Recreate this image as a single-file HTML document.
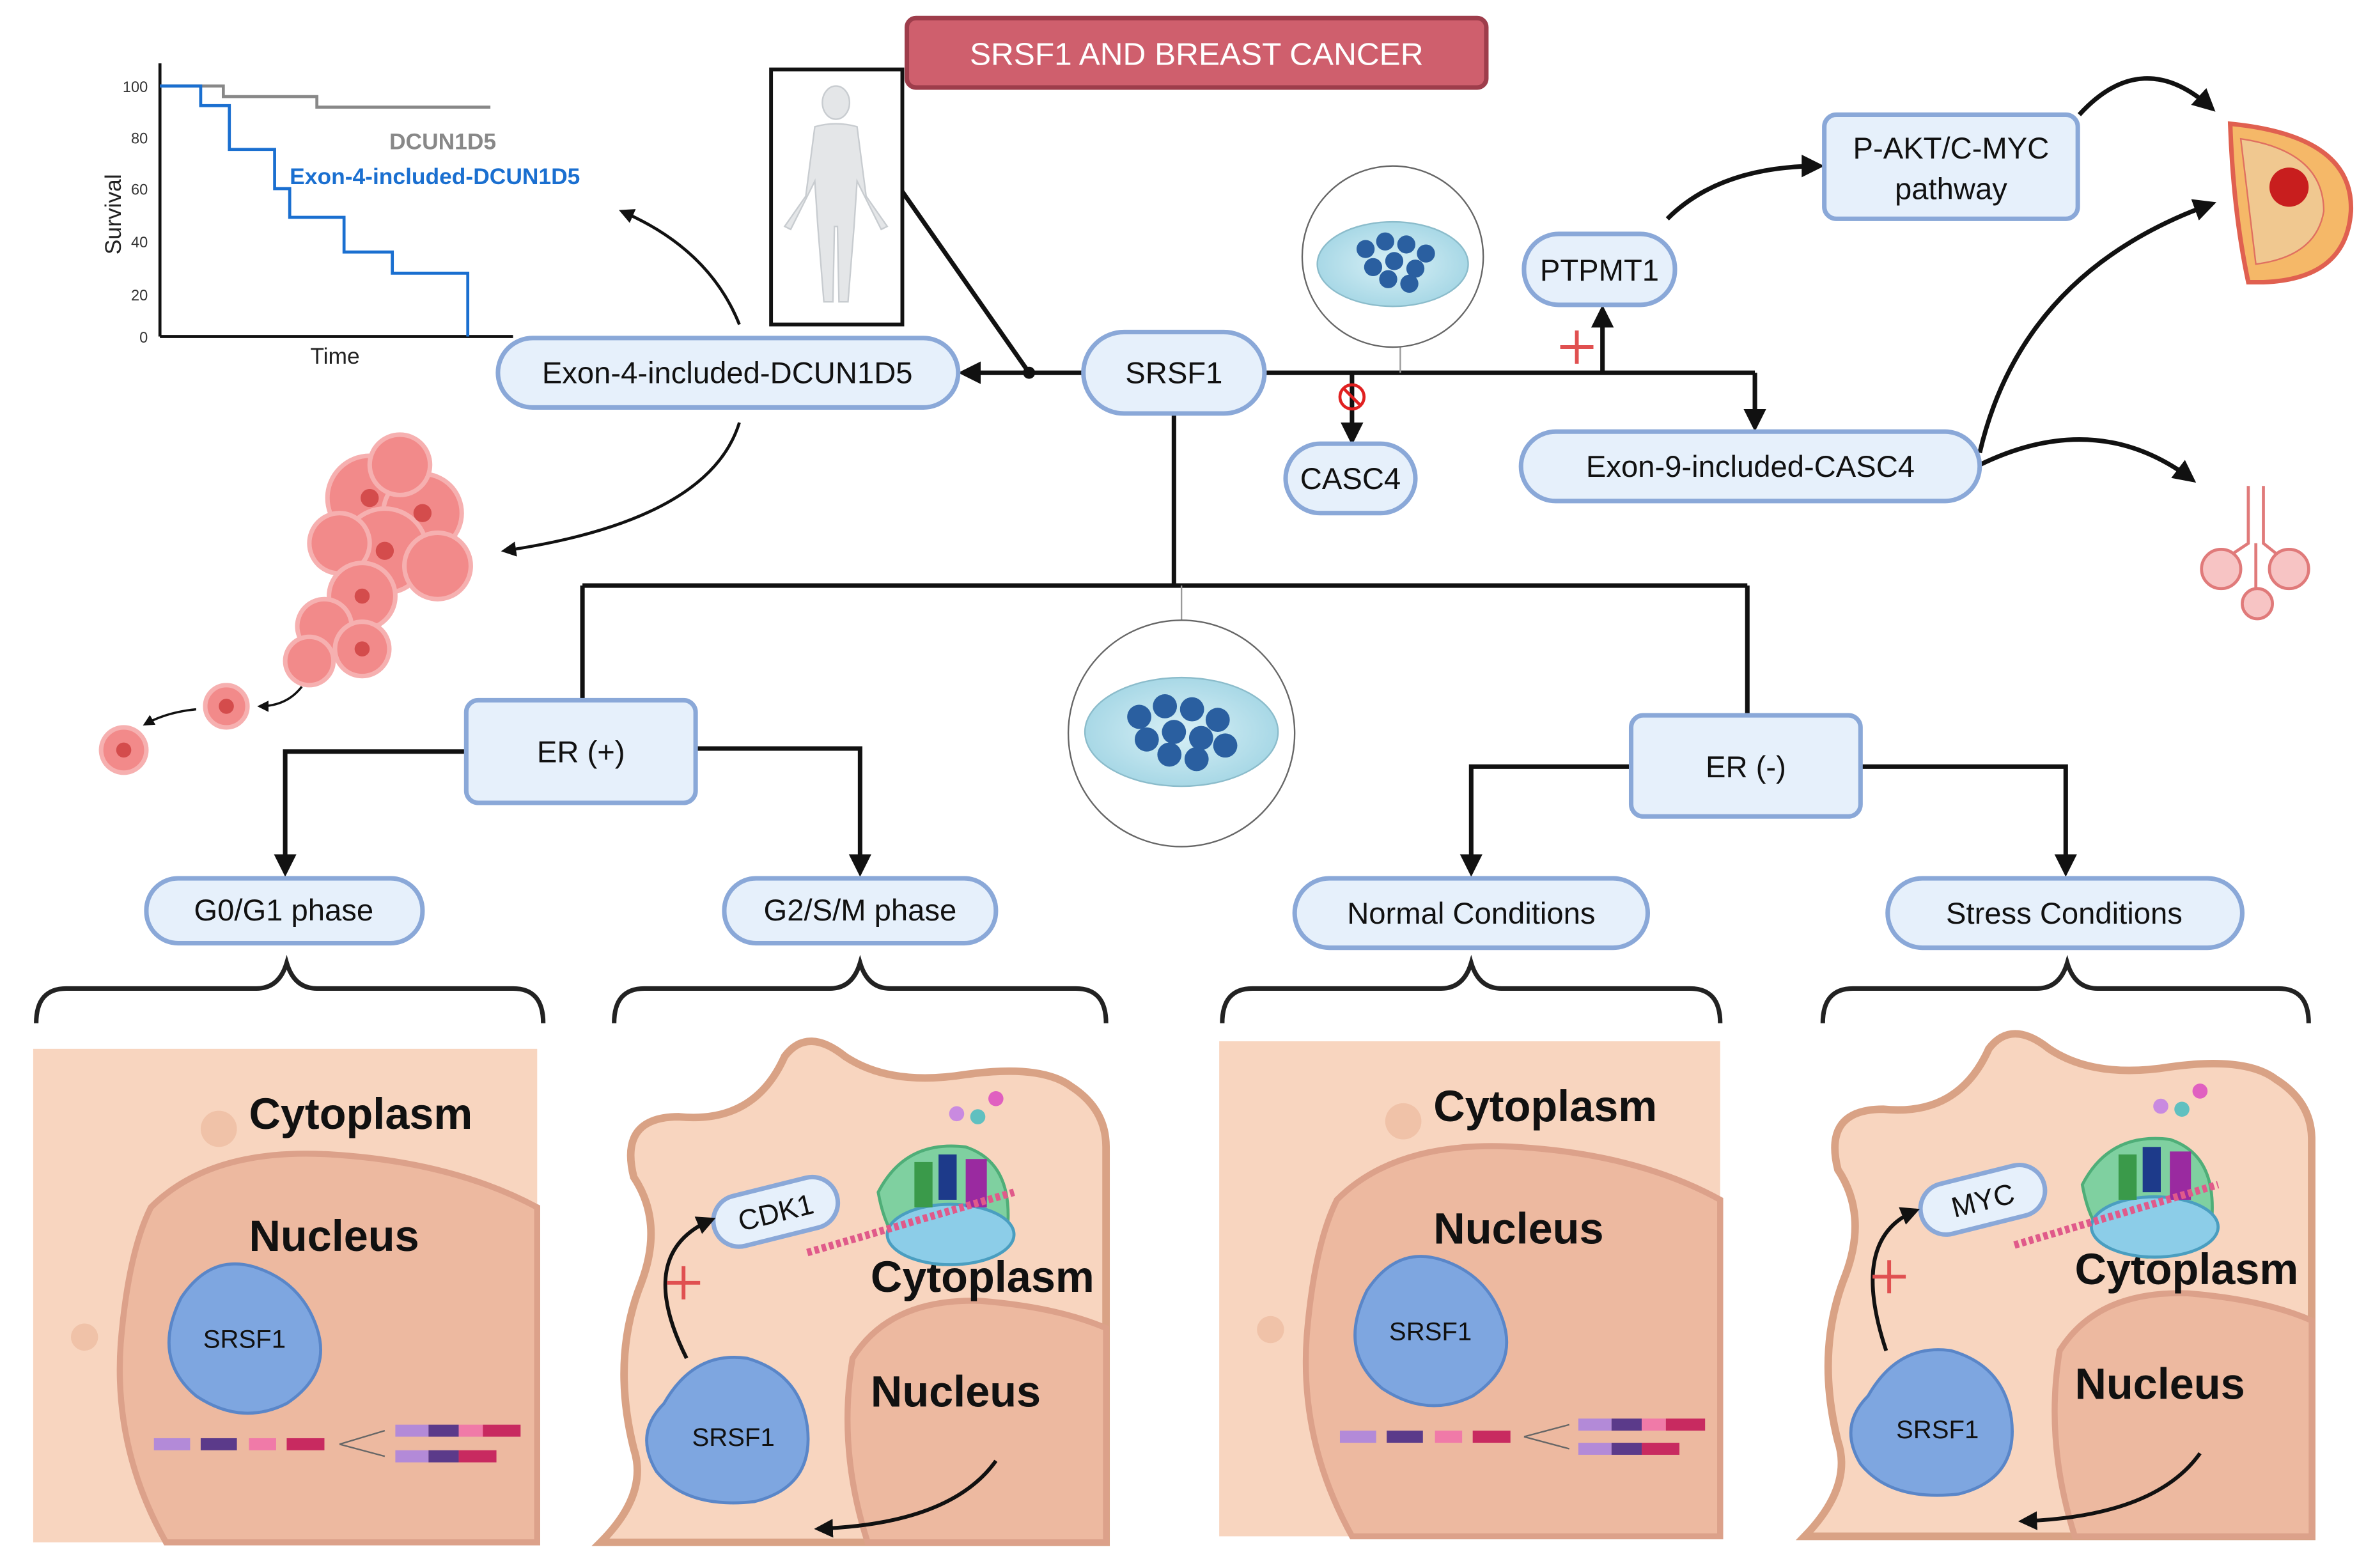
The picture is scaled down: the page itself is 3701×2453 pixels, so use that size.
<!DOCTYPE html>
<html><head><meta charset="utf-8">
<style>
html,body{margin:0;padding:0;background:#fff;}
svg{display:block;}
text{font-family:"Liberation Sans",sans-serif;}
</style></head>
<body>
<svg width="3701" height="2453" viewBox="0 0 1568 1039" preserveAspectRatio="none" xmlns="http://www.w3.org/2000/svg">
<defs>
<marker id="ar" viewBox="0 0 10 10" refX="8" refY="5" markerWidth="5" markerHeight="5" orient="auto-start-reverse">
<path d="M0,0 L10,5 L0,10 z" fill="#111"/></marker>
<radialGradient id="dish" cx="50%" cy="50%" r="50%"><stop offset="0" stop-color="#d8f0f6"/><stop offset="1" stop-color="#a8d8e6"/></radialGradient>
</defs>
<rect width="1568" height="1039" fill="#fff"/>

<!-- Title -->
<rect x="601" y="12" width="384" height="46" rx="6" fill="#cf5f6d" stroke="#9e3d4b" stroke-width="3"/>
<text x="793" y="43" text-anchor="middle" font-size="21" fill="#fff">SRSF1 AND BREAST CANCER</text>

<!-- Survival plot -->
<g font-size="10" fill="#333">
<line x1="106" y1="42" x2="106" y2="223" stroke="#111" stroke-width="2"/>
<line x1="106" y1="223" x2="340" y2="223" stroke="#111" stroke-width="2"/>
<text x="98" y="61" text-anchor="end">100</text><text x="98" y="95" text-anchor="end">80</text>
<text x="98" y="129" text-anchor="end">60</text><text x="98" y="164" text-anchor="end">40</text>
<text x="98" y="199" text-anchor="end">20</text><text x="98" y="227" text-anchor="end">0</text>
</g>
<polyline points="106,57 148,57 148,64 210,64 210,71 325,71" fill="none" stroke="#888" stroke-width="2"/>
<polyline points="106,57 133,57 133,70 152,70 152,99 182,99 182,125 192,125 192,144 228,144 228,167 260,167 260,181 310,181 310,223" fill="none" stroke="#1a6fd0" stroke-width="2"/>
<text x="258" y="99" font-size="15" font-weight="bold" fill="#888">DCUN1D5</text>
<text x="192" y="122" font-size="15" font-weight="bold" fill="#1a6fd0">Exon-4-included-DCUN1D5</text>
<text transform="translate(80,142) rotate(-90)" text-anchor="middle" font-size="15" fill="#222">Survival</text>
<text x="222" y="241" text-anchor="middle" font-size="15" fill="#222">Time</text>

<!-- Human -->
<rect x="511" y="46" width="87" height="169" fill="#fff" stroke="#111" stroke-width="2.5"/>
<g fill="#e4e6e8" stroke="#c8ccd0" stroke-width="1">
<ellipse cx="554" cy="68" rx="9" ry="11"/>
<path d="M540,84 Q554,80 568,84 L574,130 L588,150 L584,152 L568,120 L566,150 L562,200 L556,200 L555,150 L553,150 L552,200 L546,200 L542,150 L540,120 L524,152 L520,150 L534,130 Z"/>
</g>

<!-- Lines from SRSF1 -->
<g stroke="#111" stroke-width="3" fill="none">
<line x1="718" y1="247" x2="638" y2="247" marker-end="url(#ar)"/>
<line x1="598" y1="127" x2="682" y2="247"/>
<line x1="838" y1="247" x2="1163" y2="247"/>
<line x1="1163" y1="247" x2="1163" y2="283" marker-end="url(#ar)"/>
<line x1="896" y1="247" x2="896" y2="292" marker-end="url(#ar)"/>
<line x1="1062" y1="247" x2="1062" y2="205" marker-end="url(#ar)"/>
<line x1="778" y1="274" x2="778" y2="388"/>
<line x1="386" y1="388" x2="1158" y2="388"/>
<line x1="386" y1="388" x2="386" y2="464"/>
<line x1="1158" y1="388" x2="1158" y2="474"/>
<polyline points="309,498 189,498 189,578" marker-end="url(#ar)"/>
<polyline points="461,496 570,496 570,578" marker-end="url(#ar)"/>
<polyline points="1081,508 975,508 975,578" marker-end="url(#ar)"/>
<polyline points="1233,508 1369,508 1369,578" marker-end="url(#ar)"/>
<path d="M1105,145 Q1140,110 1206,110" marker-end="url(#ar)"/>
<path d="M1378,76 Q1420,30 1466,72" marker-end="url(#ar)"/>
<path d="M1312,300 Q1340,180 1466,135" marker-end="url(#ar)"/>
<path d="M1312,308 Q1390,270 1453,318" marker-end="url(#ar)"/>
<path d="M490,215 Q470,165 412,140" stroke-width="2" marker-end="url(#ar)"/>
<path d="M490,280 Q470,345 334,365" stroke-width="2" marker-end="url(#ar)"/>
<path d="M200,455 Q190,468 172,468" stroke-width="1.5" marker-end="url(#ar)"/>
<path d="M130,470 Q110,472 96,480" stroke-width="1.5" marker-end="url(#ar)"/>
</g>
<circle cx="682" cy="247" r="4" fill="#111"/>
<circle cx="896" cy="263" r="8" fill="none" stroke="#e02020" stroke-width="2"/>
<line x1="890" y1="257" x2="902" y2="269" stroke="#e02020" stroke-width="2"/>
<g stroke="#e05050" stroke-width="2.5"><line x1="1034" y1="230" x2="1056" y2="230"/><line x1="1045" y1="219" x2="1045" y2="241"/></g>

<!-- Dishes -->
<line x1="928" y1="230" x2="928" y2="247" stroke="#999" stroke-width="1"/>
<circle cx="923" cy="170" r="60" fill="#fff" stroke="#666" stroke-width="1"/>
<ellipse cx="923" cy="175" rx="50" ry="28" fill="url(#dish)" stroke="#8bbccb"/>
<g fill="#2a5fa0"><circle cx="905" cy="165" r="6"/><circle cx="918" cy="160" r="6"/><circle cx="932" cy="162" r="6"/><circle cx="945" cy="168" r="6"/><circle cx="910" cy="177" r="6"/><circle cx="924" cy="173" r="6"/><circle cx="938" cy="178" r="6"/><circle cx="920" cy="185" r="6"/><circle cx="934" cy="188" r="6"/></g>
<line x1="783" y1="388" x2="783" y2="411" stroke="#999" stroke-width="1"/>
<circle cx="783" cy="486" r="75" fill="#fff" stroke="#666" stroke-width="1"/>
<ellipse cx="783" cy="485" rx="64" ry="36" fill="url(#dish)" stroke="#8bbccb"/>
<g fill="#2a5fa0"><circle cx="755" cy="475" r="8"/><circle cx="772" cy="468" r="8"/><circle cx="790" cy="470" r="8"/><circle cx="807" cy="477" r="8"/><circle cx="760" cy="490" r="8"/><circle cx="778" cy="485" r="8"/><circle cx="796" cy="489" r="8"/><circle cx="775" cy="500" r="8"/><circle cx="793" cy="503" r="8"/><circle cx="812" cy="494" r="8"/></g>

<!-- Nodes -->
<g fill="#e6f0fb" stroke="#8aa8d8" stroke-width="3">
<rect x="330" y="224" width="305" height="46" rx="23"/>
<rect x="718" y="220" width="120" height="54" rx="27"/>
<rect x="852" y="294" width="86" height="46" rx="23"/>
<rect x="1010" y="155" width="100" height="47" rx="23"/>
<rect x="1209" y="76" width="168" height="69" rx="8"/>
<rect x="1008" y="286" width="304" height="46" rx="23"/>
<rect x="309" y="464" width="152" height="68" rx="8"/>
<rect x="1081" y="474" width="152" height="67" rx="8"/>
<rect x="97" y="582" width="183" height="43" rx="21"/>
<rect x="480" y="582" width="180" height="43" rx="21"/>
<rect x="858" y="582" width="234" height="46" rx="23"/>
<rect x="1251" y="582" width="235" height="46" rx="23"/>
</g>
<g font-size="20" fill="#111" text-anchor="middle">
<text x="482" y="254">Exon-4-included-DCUN1D5</text>
<text x="778" y="254">SRSF1</text>
<text x="895" y="324">CASC4</text>
<text x="1060" y="186">PTPMT1</text>
<text x="1293" y="105">P-AKT/C-MYC</text><text x="1293" y="132">pathway</text>
<text x="1160" y="316">Exon-9-included-CASC4</text>
<text x="385" y="505">ER (+)</text>
<text x="1157" y="515">ER (-)</text>
<text x="188" y="610">G0/G1 phase</text>
<text x="570" y="610">G2/S/M phase</text>
<text x="975" y="612">Normal Conditions</text>
<text x="1368" y="612">Stress Conditions</text>
</g>

<!-- Tumor cells -->
<g fill="#f28a8a" stroke="#f6b0b0" stroke-width="3">
<circle cx="245" cy="330" r="28"/><circle cx="280" cy="340" r="26"/><circle cx="255" cy="365" r="28"/><circle cx="290" cy="375" r="22"/><circle cx="225" cy="360" r="20"/>
<circle cx="240" cy="395" r="22"/><circle cx="215" cy="415" r="18"/><circle cx="240" cy="430" r="18"/><circle cx="205" cy="438" r="16"/><circle cx="265" cy="308" r="20"/>
<circle cx="150" cy="468" r="14"/><circle cx="82" cy="497" r="15"/>
</g>
<g fill="#d44c4c"><circle cx="245" cy="330" r="6"/><circle cx="280" cy="340" r="6"/><circle cx="255" cy="365" r="6"/><circle cx="240" cy="395" r="5"/><circle cx="240" cy="430" r="5"/><circle cx="150" cy="468" r="5"/><circle cx="82" cy="497" r="5"/></g>

<!-- Breast -->
<path d="M1478,82 Q1560,90 1558,140 Q1555,185 1500,187 L1490,187 Q1480,140 1478,82 Z" fill="#f5b868" stroke="#e06050" stroke-width="3"/>
<path d="M1485,92 Q1540,100 1540,140 Q1535,170 1495,175 Z" fill="#f0c890" stroke="#e07060" stroke-width="1"/>
<circle cx="1517" cy="124" r="13" fill="#c81e1e"/>
<!-- Lungs -->
<g fill="#f7c4c4" stroke="#e07a7a" stroke-width="2">
<path d="M1490,322 L1490,360 L1475,370 M1500,322 L1500,360 L1515,372 M1495,360 L1495,395" fill="none"/>
<circle cx="1472" cy="377" r="13"/><circle cx="1517" cy="377" r="13"/><circle cx="1496" cy="400" r="10"/>
</g>

<!-- Braces -->
<g stroke="#222" stroke-width="3" fill="none">
<path d="M24,678 Q24,655 44,655 L170,655 Q185,655 190,638 Q195,655 210,655 L340,655 Q360,655 360,678"/>
<path d="M407,678 Q407,655 427,655 L550,655 Q565,655 570,638 Q575,655 590,655 L713,655 Q733,655 733,678"/>
<path d="M810,678 Q810,655 830,655 L955,655 Q970,655 975,638 Q980,655 995,655 L1120,655 Q1140,655 1140,678"/>
<path d="M1208,678 Q1208,655 1228,655 L1350,655 Q1365,655 1370,638 Q1375,655 1390,655 L1510,655 Q1530,655 1530,678"/>
</g>

<!-- Panel 1 -->
<rect x="22" y="695" width="334" height="327" fill="#f8d5bf"/>
<path d="M100,800 Q140,760 220,765 Q300,770 356,800 L356,1022 L110,1022 Q75,960 80,890 Q85,830 100,800 Z" fill="#edb9a0" stroke="#dca18a" stroke-width="4"/>
<circle cx="145" cy="748" r="12" fill="#f0c2a8"/><circle cx="56" cy="886" r="9" fill="#f0c2a8"/>
<text x="165" y="748" font-size="29" font-weight="bold" fill="#111">Cytoplasm</text>
<text x="165" y="829" font-size="29" font-weight="bold" fill="#111">Nucleus</text>
<path d="M120,860 Q140,830 170,840 Q200,850 210,880 Q220,910 190,930 Q160,945 130,925 Q100,900 120,860 Z" fill="#7ea6e0" stroke="#5a86c8" stroke-width="2"/>
<text x="162" y="893" font-size="17" text-anchor="middle" fill="#111">SRSF1</text>
<g><rect x="102" y="953" width="24" height="8" fill="#b38ad8"/><rect x="133" y="953" width="24" height="8" fill="#5b3a8a"/><rect x="165" y="953" width="18" height="8" fill="#f07aa8"/><rect x="190" y="953" width="25" height="8" fill="#c82a60"/>
<rect x="262" y="944" width="22" height="8" fill="#b38ad8"/><rect x="284" y="944" width="20" height="8" fill="#5b3a8a"/><rect x="304" y="944" width="16" height="8" fill="#f07aa8"/><rect x="320" y="944" width="25" height="8" fill="#c82a60"/>
<rect x="262" y="961" width="22" height="8" fill="#b38ad8"/><rect x="284" y="961" width="20" height="8" fill="#5b3a8a"/><rect x="304" y="961" width="25" height="8" fill="#c82a60"/></g>
<path d="M225,957 L255,948 M225,957 L255,965" stroke="#666" stroke-width="1" fill="none"/>

<!-- Panel 3 -->
<rect x="808" y="690" width="332" height="328" fill="#f8d5bf"/>
<path d="M886,795 Q926,755 1006,760 Q1086,765 1140,795 L1140,1018 L896,1018 Q861,955 866,885 Q871,825 886,795 Z" fill="#edb9a0" stroke="#dca18a" stroke-width="4"/>
<circle cx="930" cy="743" r="12" fill="#f0c2a8"/><circle cx="842" cy="881" r="9" fill="#f0c2a8"/>
<text x="950" y="743" font-size="29" font-weight="bold" fill="#111">Cytoplasm</text>
<text x="950" y="824" font-size="29" font-weight="bold" fill="#111">Nucleus</text>
<path d="M906,855 Q926,825 956,835 Q986,845 996,875 Q1006,905 976,925 Q946,940 916,920 Q886,895 906,855 Z" fill="#7ea6e0" stroke="#5a86c8" stroke-width="2"/>
<text x="948" y="888" font-size="17" text-anchor="middle" fill="#111">SRSF1</text>
<g><rect x="888" y="948" width="24" height="8" fill="#b38ad8"/><rect x="919" y="948" width="24" height="8" fill="#5b3a8a"/><rect x="951" y="948" width="18" height="8" fill="#f07aa8"/><rect x="976" y="948" width="25" height="8" fill="#c82a60"/>
<rect x="1046" y="940" width="22" height="8" fill="#b38ad8"/><rect x="1068" y="940" width="20" height="8" fill="#5b3a8a"/><rect x="1088" y="940" width="16" height="8" fill="#f07aa8"/><rect x="1104" y="940" width="26" height="8" fill="#c82a60"/>
<rect x="1046" y="956" width="22" height="8" fill="#b38ad8"/><rect x="1068" y="956" width="20" height="8" fill="#5b3a8a"/><rect x="1088" y="956" width="25" height="8" fill="#c82a60"/></g>
<path d="M1010,952 L1040,944 M1010,952 L1040,960" stroke="#666" stroke-width="1" fill="none"/>

<!-- Panel 2 -->
<path d="M420,780 Q410,740 450,740 Q500,745 520,700 Q535,680 560,700 Q590,720 640,712 Q690,705 710,720 Q733,735 733,760 L733,1022 L398,1022 Q430,990 420,960 Q405,900 425,850 Q440,810 420,780 Z" fill="#f8d5bf" stroke="#d9a285" stroke-width="5"/>
<path d="M565,900 Q590,860 650,862 Q700,866 733,880 L733,1022 L575,1022 Q555,960 565,900 Z" fill="#edb9a0" stroke="#dca18a" stroke-width="4"/>
<text x="577" y="856" font-size="29" font-weight="bold" fill="#111">Cytoplasm</text>
<text x="577" y="932" font-size="29" font-weight="bold" fill="#111">Nucleus</text>
<rect x="472" y="786" width="84" height="34" rx="17" transform="rotate(-14 514 803)" fill="#e6f0fb" stroke="#8aa8d8" stroke-width="3"/>
<text x="514" y="810" font-size="19" text-anchor="middle" transform="rotate(-14 514 803)" fill="#111">CDK1</text>
<path d="M582,790 Q600,755 640,760 Q670,770 668,810 Q660,835 625,838 Q590,836 582,790 Z" fill="#7fd0a0" stroke="#4fae78" stroke-width="2"/>
<ellipse cx="630" cy="818" rx="42" ry="20" fill="#8ccde8" stroke="#4a9ec0" stroke-width="2"/>
<rect x="606" y="770" width="12" height="30" fill="#3a9a4a"/><rect x="622" y="765" width="12" height="30" fill="#1d3a8a"/><rect x="640" y="768" width="14" height="32" fill="#9a2aa0"/>
<line x1="535" y1="830" x2="672" y2="790" stroke="#e05a8a" stroke-width="5" stroke-dasharray="3 2"/>
<circle cx="634" cy="738" r="5" fill="#c98ae0"/><circle cx="648" cy="740" r="5" fill="#60c0c0"/><circle cx="660" cy="728" r="5" fill="#e060c0"/>
<path d="M455,900 Q420,830 472,808" stroke="#111" stroke-width="2.5" fill="none" marker-end="url(#ar)"/>
<g stroke="#e05050" stroke-width="2.5"><line x1="442" y1="850" x2="464" y2="850"/><line x1="453" y1="839" x2="453" y2="861"/></g>
<path d="M440,930 Q460,895 495,900 Q530,910 535,945 Q540,985 500,995 Q455,1000 435,975 Q420,950 440,930 Z" fill="#7ea6e0" stroke="#5a86c8" stroke-width="2"/>
<text x="486" y="958" font-size="17" text-anchor="middle" fill="#111">SRSF1</text>
<path d="M660,968 Q630,1010 542,1013" stroke="#111" stroke-width="2.5" fill="none" marker-end="url(#ar)"/>

<!-- Panel 4 -->
<path d="M1218,775 Q1208,735 1248,735 Q1298,740 1318,695 Q1333,675 1358,695 Q1388,715 1438,707 Q1488,700 1508,715 Q1532,730 1532,755 L1532,1018 L1196,1018 Q1228,985 1218,955 Q1203,895 1223,845 Q1238,805 1218,775 Z" fill="#f8d5bf" stroke="#d9a285" stroke-width="5"/>
<path d="M1365,895 Q1390,855 1450,857 Q1500,861 1532,875 L1532,1018 L1375,1018 Q1355,955 1365,895 Z" fill="#edb9a0" stroke="#dca18a" stroke-width="4"/>
<text x="1375" y="851" font-size="29" font-weight="bold" fill="#111">Cytoplasm</text>
<text x="1375" y="927" font-size="29" font-weight="bold" fill="#111">Nucleus</text>
<rect x="1272" y="778" width="84" height="34" rx="17" transform="rotate(-14 1314 795)" fill="#e6f0fb" stroke="#8aa8d8" stroke-width="3"/>
<text x="1314" y="802" font-size="19" text-anchor="middle" transform="rotate(-14 1314 795)" fill="#111">MYC</text>
<path d="M1380,785 Q1398,750 1438,755 Q1468,765 1466,805 Q1458,830 1423,833 Q1388,831 1380,785 Z" fill="#7fd0a0" stroke="#4fae78" stroke-width="2"/>
<ellipse cx="1428" cy="813" rx="42" ry="20" fill="#8ccde8" stroke="#4a9ec0" stroke-width="2"/>
<rect x="1404" y="765" width="12" height="30" fill="#3a9a4a"/><rect x="1420" y="760" width="12" height="30" fill="#1d3a8a"/><rect x="1438" y="763" width="14" height="32" fill="#9a2aa0"/>
<line x1="1335" y1="825" x2="1470" y2="785" stroke="#e05a8a" stroke-width="5" stroke-dasharray="3 2"/>
<circle cx="1432" cy="733" r="5" fill="#c98ae0"/><circle cx="1446" cy="735" r="5" fill="#60c0c0"/><circle cx="1458" cy="723" r="5" fill="#e060c0"/>
<path d="M1250,895 Q1225,820 1270,802" stroke="#111" stroke-width="2.5" fill="none" marker-end="url(#ar)"/>
<g stroke="#e05050" stroke-width="2.5"><line x1="1241" y1="846" x2="1263" y2="846"/><line x1="1252" y1="835" x2="1252" y2="857"/></g>
<path d="M1238,925 Q1258,890 1293,895 Q1328,905 1333,940 Q1338,980 1298,990 Q1253,995 1233,970 Q1218,945 1238,925 Z" fill="#7ea6e0" stroke="#5a86c8" stroke-width="2"/>
<text x="1284" y="953" font-size="17" text-anchor="middle" fill="#111">SRSF1</text>
<path d="M1458,963 Q1428,1005 1340,1008" stroke="#111" stroke-width="2.5" fill="none" marker-end="url(#ar)"/>
</svg>
</body></html>
